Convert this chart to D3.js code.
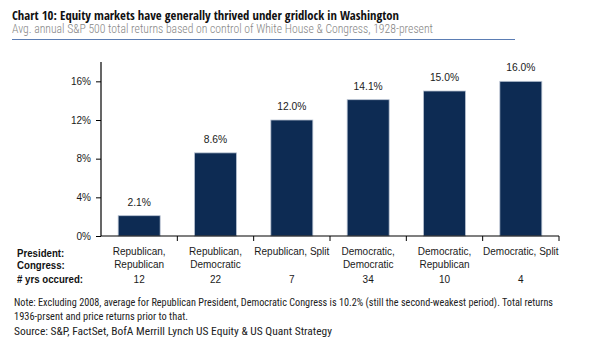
<!DOCTYPE html>
<html>
<head>
<meta charset="utf-8">
<script src="https://cdn.jsdelivr.net/npm/d3@7"></script>
<style>
  body { margin: 0; background: #fff; }
  svg { display: block; }
</style>
</head>
<body>
<div id="chart"></div>
<script>
// Data
const presidents = ["Republican", "Republican", "Republican", "Democratic", "Democratic", "Democratic"];
const congresses = ["Republican", "Democratic", "Split", "Democratic", "Republican", "Split"];
const avgReturns = [2.1, 8.6, 12.0, 14.1, 15.0, 16.0];
const yearsOccurred = [12, 22, 7, 34, 10, 4];
const yTicks = [0, 4, 8, 12, 16];

const width = 590, height = 350;
const plot = { left: 101, right: 559, top: 62, bottom: 236 };
const barColor = "#0d2b53";
const condBold = "'Open Sans Condensed', 'Roboto Condensed', sans-serif";
const cond = "'Roboto Condensed', 'DejaVu Sans Condensed', sans-serif";
const arial = "'Liberation Sans', Arial, sans-serif";

const svg = d3.select("#chart")
    .append("svg")
    .attr("width", width)
    .attr("height", height);

// squeeze a text element to the target width
const fitText = (sel, w) => sel.attr("textLength", w).attr("lengthAdjust", "spacingAndGlyphs");

// Title + subtitle
svg.append("text")
    .attr("x", 12).attr("y", 19.5)
    .style("font-family", condBold)
    .style("font-size", "12.5px")
    .style("font-weight", "bold")
    .style("fill", "#111")
    .text("Chart 10: Equity markets have generally thrived under gridlock in Washington")
    .call(fitText, 387);

svg.append("text")
    .attr("x", 12).attr("y", 33)
    .style("font-family", cond)
    .style("font-size", "12px")
    .style("font-weight", 300)
    .style("fill", "#858585")
    .text("Avg. annual S&P 500 total returns based on control of White House & Congress, 1928-present")
    .call(fitText, 421);

svg.append("line")
    .attr("x1", 12).attr("x2", 515)
    .attr("y1", 39.5).attr("y2", 39.5)
    .attr("stroke", "#5b7db4")
    .attr("stroke-width", 1);

// Scales
const x = d3.scaleBand()
    .domain(d3.range(avgReturns.length))
    .range([plot.left, plot.right])
    .padding(0);

const y = d3.scaleLinear()
    .domain([0, 18])
    .range([plot.bottom, plot.top]);

const barW = x.bandwidth() * 0.55;

// Bars
svg.append("g")
    .selectAll("rect")
    .data(avgReturns)
    .join("rect")
    .attr("x", (d, i) => x(i) + (x.bandwidth() - barW) / 2)
    .attr("y", d => y(d))
    .attr("width", barW)
    .attr("height", d => y(0) - y(d))
    .attr("fill", barColor)
    .attr("stroke", "#b9c3d2")
    .attr("stroke-width", 0.8);

// Value labels
svg.append("g")
    .selectAll("text")
    .data(avgReturns)
    .join("text")
    .attr("x", (d, i) => x(i) + x.bandwidth() / 2)
    .attr("y", d => y(d) - 10)
    .attr("text-anchor", "middle")
    .style("font-family", arial)
    .style("font-size", "10.3px")
    .style("fill", "#1a1a1a")
    .text(d => d.toFixed(1) + "%");

// Y axis
const yAxis = svg.append("g")
    .attr("transform", `translate(${plot.left},0)`)
    .call(d3.axisLeft(y).tickValues(yTicks).tickSize(5).tickFormat(d => d + "%"));
yAxis.select(".domain").attr("d", `M0,${plot.top}V${plot.bottom}`).attr("stroke", "#000").attr("stroke-width", 1.2);
yAxis.selectAll(".tick line").attr("stroke", "#000");
yAxis.selectAll("text")
    .attr("x", -10)
    .style("font-family", arial)
    .style("font-size", "10px")
    .style("fill", "#1a1a1a");

// X axis line with ticks at band edges
const xAxis = svg.append("g");
xAxis.append("line")
    .attr("x1", plot.left).attr("x2", plot.right)
    .attr("y1", plot.bottom).attr("y2", plot.bottom)
    .attr("stroke", "#000").attr("stroke-width", 1.2);
xAxis.selectAll("line.tick")
    .data(d3.range(1, avgReturns.length + 1))
    .join("line")
    .attr("class", "tick")
    .attr("x1", i => i < avgReturns.length ? x(i) : plot.right)
    .attr("x2", i => i < avgReturns.length ? x(i) : plot.right)
    .attr("y1", plot.bottom).attr("y2", plot.bottom + 5)
    .attr("stroke", "#000");

// Category labels
const catG = svg.append("g")
    .style("font-family", arial)
    .style("font-size", "10px")
    .style("fill", "#1a1a1a")
    .attr("text-anchor", "middle");

presidents.forEach((p, i) => {
    const cx = x(i) + x.bandwidth() / 2;
    const c = congresses[i];
    const t = catG.append("text").attr("x", cx).attr("y", 255);
    if (c === "Split") {
        t.text(`${p}, ${c}`);
    } else {
        t.text(p + ",");
        catG.append("text").attr("x", cx).attr("y", 268).text(c);
    }
    catG.append("text").attr("x", cx).attr("y", 282.5).text(yearsOccurred[i]);
});

// Row headers (narrow bold, squeezed from Liberation Sans Bold)
const rowLabels = ["President:", "Congress:", "# yrs occured:"];
svg.append("g")
    .selectAll("text")
    .data(rowLabels)
    .join("text")
    .attr("x", 17)
    .attr("y", (d, i) => [256.7, 269, 282.5][i])
    .style("font-family", arial)
    .style("font-size", "11.5px")
    .style("font-weight", "bold")
    .style("fill", "#111")
    .text(d => d)
    .each(function () {
        const sel = d3.select(this);
        sel.call(fitText, this.getComputedTextLength() * 0.84);
    });

// Notes
const notes = [
    ["Note: Excluding 2008, average for Republican President, Democratic Congress is 10.2% (still the second-weakest period). Total returns", 539],
    ["1936-prsent and price returns prior to that.", 174],
    ["Source: S&P, FactSet, BofA Merrill Lynch US Equity & US Quant Strategy", 318]
];
notes.forEach(([t, w], i) => {
    svg.append("text")
        .attr("x", 14)
        .attr("y", 305.5 + i * 14.5)
        .style("font-family", cond)
        .style("font-size", "10px")
        .style("fill", "#222")
        .text(t)
        .call(fitText, w);
});
</script>
</body>
</html>
